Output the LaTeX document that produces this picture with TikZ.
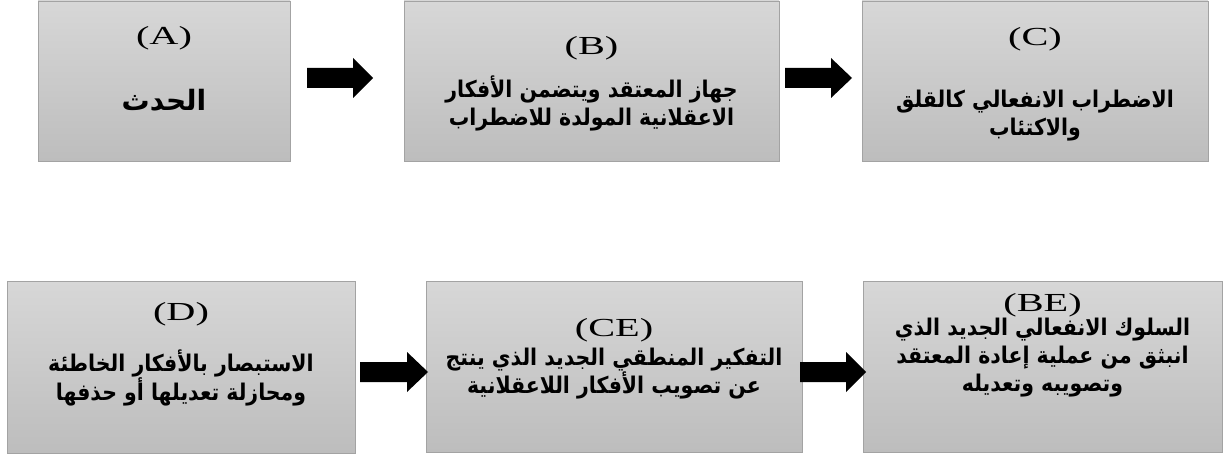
\documentclass[tikz,border=0pt]{standalone}
\usepackage{graphicx}
\usepackage{fontspec}
\setmainfont{Liberation Serif}
\newfontfamily\arabicfont[Script=Arabic]{DejaVu Sans}
\TeXXeTstate=1
\usetikzlibrary{calc}
\definecolor{boxtop}{HTML}{D7D7D7}
\definecolor{boxbot}{HTML}{BDBDBD}
\definecolor{boxedge}{HTML}{A3A3A3}
\newcommand{\rl}[1]{\scalebox{0.89}[1]{\beginR #1\endR}}
\newcommand{\lab}[1]{\scalebox{1.55}[1]{#1}}
\newcommand{\blockarrow}[3]{%
  \fill[black] ([yshift=10pt]#1) -- ([xshift=-#3,yshift=10pt]#2) -- ([xshift=-#3,yshift=20pt]#2) -- (#2)
    -- ([xshift=-#3,yshift=-20pt]#2) -- ([xshift=-#3,yshift=-10pt]#2) -- ([yshift=-10pt]#1) -- cycle;}
\begin{document}
\begin{tikzpicture}[x=1pt,y=-1pt,
  box/.style={draw=boxedge, line width=0.8pt, top color=boxtop, bottom color=boxbot, inner sep=0pt},
  lbl/.style={font=\fontsize{26}{30}\selectfont, inner sep=0pt},
  body/.style={font=\arabicfont\bfseries\fontsize{23}{28}\selectfont, align=center, inner sep=0pt}]
\useasboundingbox (0,0) rectangle (1223,457);
% boxes
\node[box, minimum width=252pt, minimum height=160pt] (A) at (164,81) {};
\node[box, minimum width=375pt, minimum height=160pt] (B) at (591.5,81) {};
\node[box, minimum width=346pt, minimum height=160pt] (C) at (1035,81) {};
\node[box, minimum width=348pt, minimum height=172pt] (D) at (181,367) {};
\node[box, minimum width=376pt, minimum height=171pt] (CE) at (614,366.5) {};
\node[box, minimum width=359pt, minimum height=171pt] (BE) at (1042.5,366.5) {};
% labels
\node[lbl] (lA) at (164,38) {\lab{(A)}};
\node[lbl] (lB) at (591.5,48) {\lab{(B)}};
\node[lbl] (lC) at (1035,39) {\lab{(C)}};
\node[lbl] (lD) at (181,314) {\lab{(D)}};
\node[lbl] (lCE) at (614,330) {\lab{(CE)}};
\node[lbl] (lBE) at (1042.5,305) {\lab{(BE)}};
% bodies
\node[body, font=\arabicfont\bfseries\fontsize{28}{32}\selectfont] (tA) at (164,100) {\beginR الحدث\endR};
\node[body] (tB) at (591.5,103) {\rl{جهاز المعتقد ويتضمن الأفكار}\\\rl{الاعقلانية المولدة للاضطراب}};
\node[body] (tC) at (1035,116) {\rl{الاضطراب الانفعالي كالقلق}\\\rl{والاكتئاب}};
\node[body] (tD) at (181,378) {\rl{الاستبصار بالأفكار الخاطئة}\\\rl{ومحازلة تعديلها أو حذفها}};
\node[body] (tCE) at (614,374) {\rl{التفكير المنطقي الجديد الذي ينتج}\\\rl{عن تصويب الأفكار اللاعقلانية}};
\node[body] (tBE) at (1042.5,358) {\rl{السلوك الانفعالي الجديد الذي}\\\rl{انبثق من عملية إعادة المعتقد}\\\rl{وتصويبه وتعديله}};
% arrows
\coordinate (a1s) at (307,78);  \coordinate (a1e) at (373,78);
\coordinate (a2s) at (785,78);  \coordinate (a2e) at (852,78);
\coordinate (a3s) at (360,372); \coordinate (a3e) at (428,372);
\coordinate (a4s) at (800,372); \coordinate (a4e) at (866,372);
\blockarrow{a1s}{a1e}{20pt}
\blockarrow{a2s}{a2e}{21pt}
\blockarrow{a3s}{a3e}{21pt}
\blockarrow{a4s}{a4e}{20pt}
\end{tikzpicture}
\end{document}
